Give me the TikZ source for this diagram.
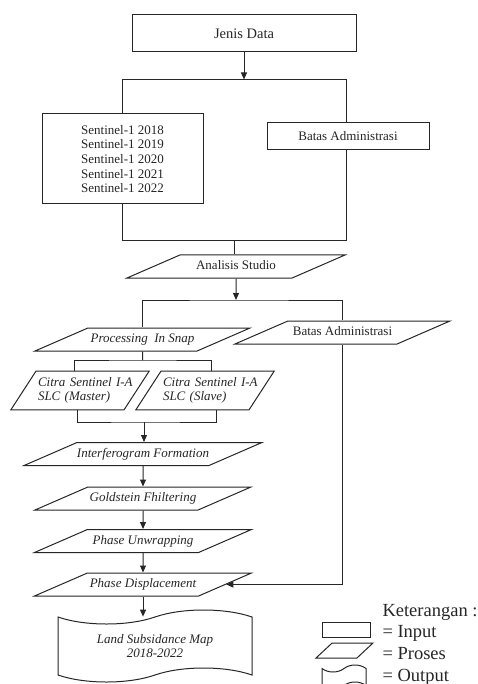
\documentclass[tikz,border=0pt]{standalone}
\usepackage{fontspec}
\setmainfont{Liberation Serif}
\usetikzlibrary{shapes.geometric, shapes.symbols, arrows.meta, positioning}

\begin{document}
\begin{tikzpicture}[x=1pt, y=-1pt, line width=1pt, draw=black!85,
    >={Triangle[length=7pt,width=6pt]},
    input/.style={draw, rectangle, fill=white, inner sep=0pt, text=black!85,
        font=\fontsize{13}{14.6}\selectfont},
    para/.style={draw, trapezium, trapezium left angle=23.5, trapezium right angle=156.5,
        trapezium stretches body, fill=white, inner xsep=0pt, text=black!85,
        font=\itshape\fontsize{13}{14}\selectfont},
    proses/.style={para, text height=9pt, text depth=3pt, inner ysep=5.5pt},
    citra/.style={para, trapezium left angle=57, trapezium right angle=123,
        text width=84pt, align=left, inner xsep=2pt, inner ysep=6.5pt},
    output/.style={draw, tape, fill=white, inner sep=0pt, text=black!85, align=center,
        font=\itshape\fontsize{13}{14}\selectfont},
    keytext/.style={anchor=base west, inner sep=0pt, text=black!85,
        font=\fontsize{18.5}{22}\selectfont}]
    \useasboundingbox (0,0) rectangle (478,684);

    \node[input, minimum width=224pt, minimum height=37pt, font=\fontsize{14.5}{16}\selectfont]
        (jenis) at (244,33.5) {Jenis Data};
    \node[draw, minimum width=224pt, minimum height=161pt, inner sep=0pt] (frame) at (234,160.5) {};
    \node[input, minimum width=161pt, minimum height=90pt, align=center] (sentinel) at (122.5,159)
        {Sentinel-1 2018\\Sentinel-1 2019\\Sentinel-1 2020\\Sentinel-1 2021\\Sentinel-1 2022};
    \node[input, minimum width=162pt, minimum height=27pt] (batas1) at (348,136.5) {Batas Administrasi};

    \node[proses, minimum width=218pt, font=\fontsize{13}{14.6}\selectfont]
        (analisis) at (236,266.5) {Analisis Studio};
    \node[proses, minimum width=215pt] (proc) at (142.5,339.5) {Processing\ \ In Snap};
    \node[proses, minimum width=215pt, font=\fontsize{13}{14.6}\selectfont]
        (batas2) at (342.5,332.5) {Batas Administrasi};
    \node[citra] (master) at (80,390.5) {\mbox{Citra Sentinel I-A}\\SLC (Master)};
    \node[citra] (slave) at (205,390.5) {\mbox{Citra Sentinel I-A}\\SLC (Slave)};
    \node[proses, minimum width=217pt] (interf) at (143,454) {Interferogram Formation};
    \node[proses, minimum width=216pt] (gold) at (143,498.5) {Goldstein Fhiltering};
    \node[proses, minimum width=217pt] (unwrap) at (143,541) {Phase Unwrapping};
    \node[proses, minimum width=217pt] (disp) at (143,584.5) {Phase Displacement};
    \node[output, minimum width=194pt, minimum height=72pt, tape bend height=14pt]
        (map) at (155,646) {Land Subsidance Map\\2018-2022};

    % alur
    \draw[->] (jenis.south) -- (jenis.south |- frame.north);
    \draw (frame.south) -- (frame.south |- analisis.north);
    \coordinate (split1) at (236,300);
    \draw[->] (analisis.south) -- (split1);
    \draw (proc.north) |- (split1) -| (batas2.north);
    \coordinate (split2) at (142.5,360);
    \draw (proc.south) -- (split2);
    \draw ([xshift=-6pt]master.north) |- (split2) -| ([xshift=6pt]slave.north);
    \coordinate (join) at (144,422);
    \draw ([xshift=-3pt]master.south) |- (join) -| ([xshift=11pt]slave.south);
    \draw[->] (join) -- (join |- interf.north);
    \draw[->] (interf.south) -- (gold.north);
    \draw[->] (gold.south) -- (unwrap.north);
    \draw[->] (unwrap.south) -- (disp.north);
    \draw[->] (disp.south) -- (disp.south |- map.north);
    \draw[->] (batas2.south) |- (disp.east);

    % keterangan
    \node[keytext] (ket) at (382,616) {Keterangan :};
    \node[input, minimum width=48pt, minimum height=15pt] (keyin) at (346,629.5) {};
    \node[keytext] (ketin) at (382,637) {= Input};
    \node[para, trapezium left angle=43, trapezium right angle=137, inner ysep=7.5pt,
        minimum width=57pt] (keyproc) at (344.5,650.5) {};
    \node[keytext] (ketproc) at (382,659) {= Proses};
    \node[output, minimum width=44pt, minimum height=24pt, tape bend height=7pt] (keyout) at (344,677) {};
    \node[keytext] (ketout) at (382,681) {= Output};
\end{tikzpicture}
\end{document}
